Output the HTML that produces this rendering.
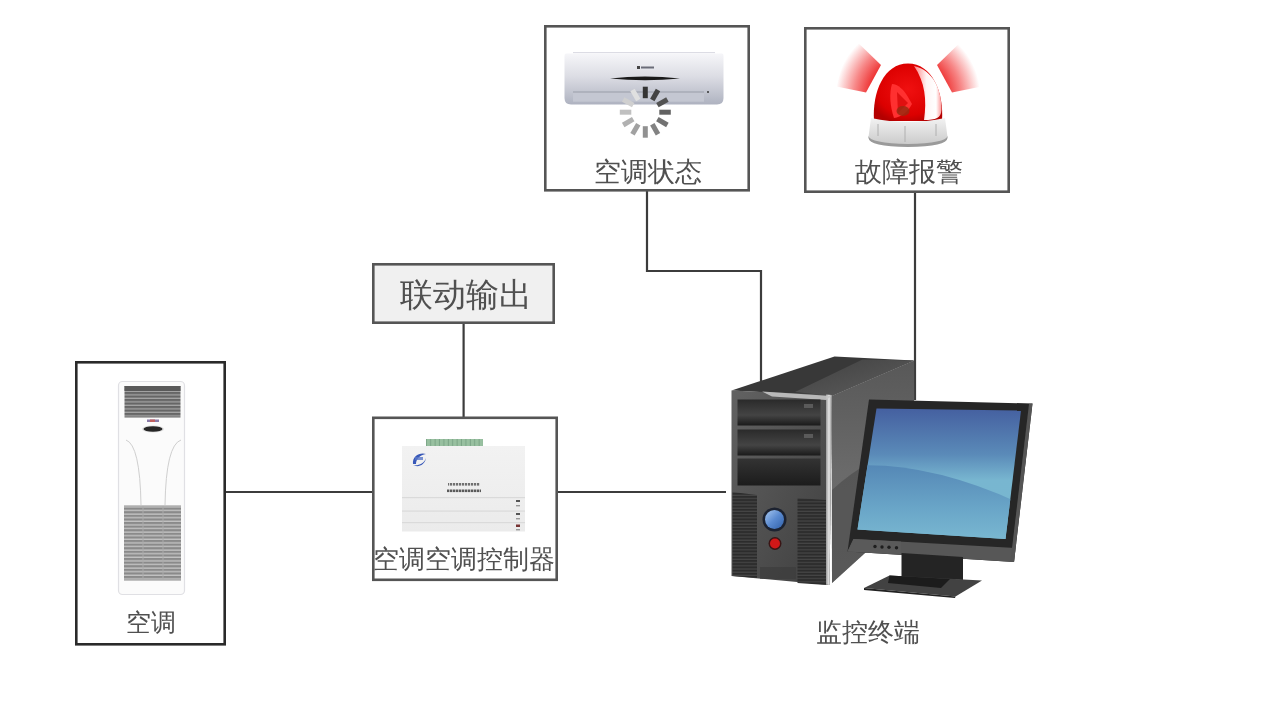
<!DOCTYPE html>
<html><head><meta charset="utf-8">
<style>
html,body{margin:0;padding:0;background:#fff;width:1280px;height:720px;overflow:hidden}
svg{position:absolute;left:0;top:0}
#wrap{position:absolute;left:0;top:0;width:1280px;height:720px;will-change:transform}
.t{font-family:"Liberation Sans",sans-serif;fill:#505050}
</style></head><body><div id="wrap">
<svg width="1280" height="720" viewBox="0 0 1280 720">
<defs>
  <linearGradient id="gTop" x1="0" y1="0" x2="1" y2="1">
    <stop offset="0" stop-color="#404040"/><stop offset="1" stop-color="#5e5e5e"/>
  </linearGradient>
  <linearGradient id="gSide" x1="0" y1="0" x2="0" y2="1">
    <stop offset="0" stop-color="#585858"/><stop offset="0.5" stop-color="#6a6a6a"/><stop offset="1" stop-color="#707070"/>
  </linearGradient>
  <linearGradient id="gFront" x1="0" y1="0" x2="1" y2="1">
    <stop offset="0" stop-color="#626262"/><stop offset="1" stop-color="#3e3e3e"/>
  </linearGradient>
  <linearGradient id="gEdge" x1="0" y1="0" x2="1" y2="0">
    <stop offset="0" stop-color="#9a9a9a"/><stop offset="0.5" stop-color="#e6e6e6"/><stop offset="1" stop-color="#8a8a8a"/>
  </linearGradient>
  <linearGradient id="gBay" x1="0" y1="0" x2="0" y2="1">
    <stop offset="0" stop-color="#2a2a2a"/><stop offset="0.6" stop-color="#444"/><stop offset="1" stop-color="#1a1a1a"/>
  </linearGradient>
  <linearGradient id="gBay3" x1="0" y1="0" x2="0" y2="1">
    <stop offset="0" stop-color="#333"/><stop offset="1" stop-color="#1c1c1c"/>
  </linearGradient>
  <linearGradient id="gBlue" x1="0" y1="0" x2="1" y2="1">
    <stop offset="0" stop-color="#a8c8f0"/><stop offset="0.5" stop-color="#5a8ad0"/><stop offset="1" stop-color="#3060a8"/>
  </linearGradient>
  <linearGradient id="gScreen" x1="0" y1="0" x2="0" y2="1">
    <stop offset="0" stop-color="#4560a0"/><stop offset="0.35" stop-color="#5a8ab8"/><stop offset="0.55" stop-color="#78b6d0"/><stop offset="1" stop-color="#78b8d0"/>
  </linearGradient>
  <linearGradient id="gScreen2" x1="0" y1="0" x2="0" y2="1">
    <stop offset="0" stop-color="#5588b6"/><stop offset="0.55" stop-color="#6aa6c8"/><stop offset="1" stop-color="#7cbad2"/>
  </linearGradient>
  <pattern id="pVent" width="6" height="3.2" patternUnits="userSpaceOnUse">
    <rect width="6" height="3.2" fill="#2c2c2c"/><rect y="2" width="6" height="1.2" fill="#454545"/>
  </pattern>

  <linearGradient id="gAC" x1="0" y1="0" x2="0" y2="1">
    <stop offset="0" stop-color="#f6f6f9"/><stop offset="0.45" stop-color="#dcdde4"/><stop offset="1" stop-color="#aeb2c0"/>
  </linearGradient>
  <radialGradient id="gRayL" gradientUnits="userSpaceOnUse" cx="908" cy="96" r="84">
    <stop offset="0.46" stop-color="#ee3434"/><stop offset="0.64" stop-color="#f78888"/><stop offset="0.86" stop-color="#ffffff"/>
  </radialGradient>
  
  <radialGradient id="gDome" cx="0.5" cy="0.45" r="0.6">
    <stop offset="0" stop-color="#f01010"/><stop offset="0.75" stop-color="#dc0000"/><stop offset="1" stop-color="#b40000"/>
  </radialGradient>
  <linearGradient id="gHL" x1="0" y1="0" x2="1" y2="0">
    <stop offset="0" stop-color="#ff8080"/><stop offset="0.45" stop-color="#fff4f4"/><stop offset="0.8" stop-color="#ffffff"/><stop offset="1" stop-color="#ff9a9a"/>
  </linearGradient>
  <linearGradient id="gBase" x1="0" y1="0" x2="0" y2="1">
    <stop offset="0" stop-color="#f2f2f2"/><stop offset="1" stop-color="#c8c8c8"/>
  </linearGradient>
  <linearGradient id="gCtl" x1="0" y1="0" x2="0" y2="1">
    <stop offset="0" stop-color="#f2f2f2"/><stop offset="1" stop-color="#ebebeb"/>
  </linearGradient>
  <pattern id="pGrille1" width="4" height="3.5" patternUnits="userSpaceOnUse">
    <rect width="4" height="3.5" fill="#666"/><rect y="2.2" width="4" height="1.3" fill="#a4a4a4"/>
  </pattern>
  <pattern id="pGrille2" width="4" height="3.6" patternUnits="userSpaceOnUse">
    <rect width="4" height="3.6" fill="#8a8a8a"/><rect y="2.2" width="4" height="1.4" fill="#c2c2c2"/>
  </pattern>
  <pattern id="pTerm" width="4.4" height="7.5" patternUnits="userSpaceOnUse">
    <rect width="4.4" height="7.5" fill="#98c0a0"/><rect x="3.4" width="1" height="7.5" fill="#7aa486"/>
  </pattern>
  <pattern id="pTxt" width="3" height="3" patternUnits="userSpaceOnUse"><rect width="2.2" height="3" fill="#707070"/></pattern>
  <pattern id="pTxt2" width="3" height="3" patternUnits="userSpaceOnUse"><rect width="2.4" height="3" fill="#5a5a5a"/></pattern>
  <clipPath id="clipScr"><polygon points="876.5,408.5 1021,410.5 1005.5,539 857.5,529.5"/></clipPath>
</defs>
<g>
<!-- connector lines -->
<g stroke="#3c3c3c" stroke-width="2.2" fill="none">
  <polyline points="647,191 647,271 761,271 761,381"/>
  <line x1="915" y1="193" x2="915" y2="400"/>
  <line x1="463.6" y1="324" x2="463.6" y2="417"/>
  <line x1="226" y1="492" x2="372" y2="492"/>
  <line x1="557" y1="492" x2="726" y2="492"/>
</g>
<!-- boxes -->
<g fill="#fff" stroke="#555" stroke-width="2.6">
  <rect x="545.3" y="26.3" width="203.4" height="164"/>
  <rect x="805.3" y="28.3" width="203.4" height="163.4"/>
  <rect x="373.3" y="264.3" width="180.4" height="58.4" fill="#f0f0f0"/>
  <rect x="373.3" y="417.8" width="183.4" height="162"/>
  <rect x="76.3" y="362.3" width="148.4" height="282" stroke="#2a2a2a"/>
</g>


<!-- wall AC -->
<g id="wallac">
  <rect x="573" y="52" width="142" height="1.2" fill="#dcdce4"/>
  <path d="M566,53.5 L722,53.5 Q723.5,53.5 723.5,56 L723.5,98 Q723.5,104.5 717,104.5 L571,104.5 Q564.5,104.5 564.5,98 L564.5,56 Q564.5,53.5 566,53.5 Z" fill="url(#gAC)"/>
  <rect x="573" y="91.5" width="131" height="1.2" fill="#9a9eaa"/>
  <rect x="573" y="92.7" width="131" height="9" fill="#c4c7d2"/>
  <path d="M610,78.5 Q645,74.5 680,78.5 Q645,82 610,78.5 Z" fill="#1a1a1a"/>
  <rect x="637" y="66" width="3" height="3" fill="#444"/><rect x="641" y="66.5" width="13" height="2" fill="#6a6c78"/>
  <circle cx="708" cy="92" r="1" fill="#333"/>
  <line x1="645.3" y1="98.2" x2="645.3" y2="86.7" stroke="#343434" stroke-width="5" stroke-linecap="butt"/>
  <line x1="652.3" y1="100.1" x2="658.0" y2="90.1" stroke="#434343" stroke-width="5" stroke-linecap="butt"/>
  <line x1="657.4" y1="105.2" x2="667.4" y2="99.5" stroke="#535353" stroke-width="5" stroke-linecap="butt"/>
  <line x1="659.3" y1="112.2" x2="670.8" y2="112.2" stroke="#626262" stroke-width="5" stroke-linecap="butt"/>
  <line x1="657.4" y1="119.2" x2="667.4" y2="125.0" stroke="#727272" stroke-width="5" stroke-linecap="butt"/>
  <line x1="652.3" y1="124.3" x2="658.0" y2="134.3" stroke="#828282" stroke-width="5" stroke-linecap="butt"/>
  <line x1="645.3" y1="126.2" x2="645.3" y2="137.7" stroke="#919191" stroke-width="5" stroke-linecap="butt"/>
  <line x1="638.3" y1="124.3" x2="632.5" y2="134.3" stroke="#a1a1a1" stroke-width="5" stroke-linecap="butt"/>
  <line x1="633.2" y1="119.2" x2="623.2" y2="125.0" stroke="#b1b1b1" stroke-width="5" stroke-linecap="butt"/>
  <line x1="631.3" y1="112.2" x2="619.8" y2="112.2" stroke="#c0c0c0" stroke-width="5" stroke-linecap="butt"/>
  <line x1="633.2" y1="105.2" x2="623.2" y2="99.5" stroke="#d0d0d0" stroke-width="5" stroke-linecap="butt"/>
  <line x1="638.3" y1="100.1" x2="632.5" y2="90.1" stroke="#e0e0e0" stroke-width="5" stroke-linecap="butt"/>
</g>

<!-- alarm -->
<g id="alarm">
  <polygon points="850,35 881,65 866,92.5 836.5,86.5" fill="url(#gRayL)"/>
  <polygon points="968,35 937,65 952,92.5 981.5,86.5" fill="url(#gRayL)"/>
  <path d="M874,121 C872,92 884,63.5 908,63.5 C932,63.5 944,92 942,121 Z" fill="url(#gDome)"/>
  <path d="M914,66 C933,70 942,90 941.5,110 C941,118 936,120 924,120 C927,100 925,82 914,66 Z" fill="url(#gHL)"/>
  <path d="M892,84 C898,84 904,90 908,97 L912,104 C908,112 901,117 894,118 C890,106 889,94 892,84 Z" fill="#ff3030"/>
  <path d="M897,92 L908,103 L898,113 Z" fill="#e01010"/>
  <ellipse cx="903" cy="111" rx="6.5" ry="5" fill="#9a2a10" opacity="0.85"/>
  <path d="M871,118 Q908,126 945,118 L947.5,137 Q947,145 908,146 Q869,145 868.5,137 Z" fill="url(#gBase)"/>
  <path d="M868.5,136 Q870,143 908,144 Q946,143 947.5,136 L947.5,138 Q947,146.5 908,147 Q869,146.5 868.5,138 Z" fill="#9a9a9a"/>
  <g stroke="#b0b0b0" stroke-width="1"><line x1="878" y1="124" x2="878" y2="136"/><line x1="905" y1="126" x2="905" y2="142"/><line x1="936" y1="124" x2="936" y2="136"/></g>
</g>

<!-- floor AC -->
<g id="floorac">
  <rect x="118.5" y="381.5" width="66" height="213" rx="4" fill="#fbfbfb" stroke="#e0e0e4" stroke-width="1.2"/>
  <rect x="124.5" y="386" width="56" height="31.5" fill="url(#pGrille1)"/><rect x="124.5" y="386" width="56" height="5" fill="#5a5a5a"/>
  <rect x="147" y="419.5" width="12" height="2.5" fill="#8a7aa8"/><rect x="150" y="419.5" width="5" height="2.5" fill="#c06060"/>
  <ellipse cx="153" cy="429" rx="11" ry="3.6" fill="#e0e0e0"/><ellipse cx="153" cy="429" rx="9.5" ry="2.8" fill="#262626"/>
  <path d="M126,440 Q140,445 141,505 M181,440 Q166,445 165,505" stroke="#cfcfcf" stroke-width="1" fill="none"/>
  <rect x="124" y="505.5" width="57" height="75" fill="url(#pGrille2)"/>
  <line x1="143" y1="506" x2="143" y2="580" stroke="#aaa" stroke-width="1"/>
  <line x1="163" y1="506" x2="163" y2="580" stroke="#aaa" stroke-width="1"/>
</g>

<!-- controller -->
<g id="controller">
  <rect x="426" y="439" width="57" height="7" fill="url(#pTerm)"/>
  <rect x="402" y="446" width="123" height="85.5" fill="url(#gCtl)"/>
  <path d="M413,464 C412,456 420,452 426,454 C420,455 416,459 416,464 Z" fill="#3858b8"/>
  <path d="M413,465 C418,468 425,465 426,458 C424,464 418,466 413,465 Z" fill="#3858b8"/>
  <rect x="415" y="457" width="8" height="3" fill="#5a78c8" opacity="0.8"/>
  <rect x="448" y="483" width="32" height="2.6" fill="url(#pTxt)"/>
  <rect x="447" y="489.5" width="34" height="2.6" fill="url(#pTxt2)"/>
  <g fill="#dadada"><rect x="402" y="497" width="123" height="1.2"/><rect x="402" y="510.5" width="123" height="1.2"/><rect x="402" y="522" width="123" height="1.2"/></g>
  <g fill="#555"><rect x="516" y="500" width="4" height="2"/><rect x="516" y="505" width="4" height="1.4" fill="#999"/><rect x="516" y="513" width="4" height="2"/><rect x="516" y="518" width="4" height="1.4" fill="#999"/><rect x="516" y="524.5" width="4" height="2.5" fill="#733"/><rect x="516" y="529" width="4" height="1.4" fill="#999"/></g>
</g>
<!-- computer -->
<g id="computer">
  <!-- tower top face -->
  <polygon points="731.5,390.5 834.5,356.5 914,360.5 831.5,396" fill="#383838"/>
  <polygon points="862.5,359.5 914,360.5 831.5,396 795,392" fill="url(#gTop)"/>
  <!-- tower side face -->
  <polygon points="831.5,396 914,360.5 914.5,508 832,583" fill="url(#gSide)"/>
  <path d="M832,490 Q870,455 914.5,445 L914.5,508 L832,583 Z" fill="#505050" opacity="0.75"/>
  <!-- tower front face -->
  <polygon points="731.5,390.5 832,395 829.5,585 731.5,576" fill="url(#gFront)"/>
  <!-- silver edges -->
  <polygon points="826,394.5 832,395 829.5,585 826,584.5" fill="url(#gEdge)"/>
  <polygon points="762,391.5 831.5,396 826,400 772,396.5" fill="#c4c4c4" opacity="0.9"/>
  <!-- drive bays -->
  <rect x="737.5" y="399.5" width="83" height="26" fill="url(#gBay)"/>
  <rect x="737.5" y="429.5" width="83" height="26" fill="url(#gBay)"/>
  <rect x="737.5" y="458.5" width="83" height="27" fill="url(#gBay3)"/>
  <rect x="804" y="404" width="9" height="4" fill="#5a5a5a"/>
  <rect x="804" y="434" width="9" height="4" fill="#5a5a5a"/>
  <!-- vents -->
  <polygon points="732.5,492 757,495 757,578 732.5,576" fill="url(#pVent)"/>
  <polygon points="797.5,498 826,500 826,585 797.5,583" fill="url(#pVent)"/>
  <rect x="760" y="567" width="36" height="12" fill="#3a3a3a" opacity="0.6"/>
  <!-- buttons -->
  <circle cx="774.5" cy="519.5" r="12" fill="#1c2230"/>
  <circle cx="774.5" cy="519.5" r="9.5" fill="url(#gBlue)"/>
  <circle cx="775" cy="543.5" r="6.5" fill="#3a1515"/>
  <circle cx="775" cy="543.5" r="5" fill="#d01818"/>
  <!-- monitor bezel -->
  <polygon points="869,399.5 1032.5,403.5 1014,562 847.5,551.5" fill="#262626"/>
  <polygon points="853.5,539 1015.5,548 1014,562 847.5,551.5" fill="#575757"/>
  <polygon points="853.5,539 901,541.5 901,554 847.5,551.5" fill="#5a5a5a"/>
  <polygon points="1029,404 1032.5,403.5 1014,562 1010.5,561" fill="#555"/>
  <!-- screen -->
  <polygon points="876.5,408.5 1021,410.5 1005.5,539 857.5,529.5" fill="url(#gScreen)"/>
  <path d="M850,466 Q930,460 1030,508 L1030,545 L850,545 Z" fill="url(#gScreen2)" clip-path="url(#clipScr)"/>
  <!-- dots -->
  <g fill="#1e1e1e"><circle cx="875" cy="546.5" r="1.7"/><circle cx="882" cy="547" r="1.7"/><circle cx="889" cy="547.3" r="1.7"/><circle cx="896.5" cy="547.7" r="1.7"/></g>
  <!-- neck -->
  <polygon points="901.5,553 963,557 963,580 901.5,577" fill="#242424"/>
  <!-- base -->
  <polygon points="889.5,575.5 982,580.5 955.5,596.5 864,588" fill="#424242"/>
  <polygon points="889.5,575.5 950,579 941,588 888,583" fill="#1c1c1c"/>
  <polygon points="864,588 955.5,596.5 955,598 864,590" fill="#222"/>
</g>
<!-- labels -->
<g class="t">
  <text x="647.5" y="181" font-size="27" text-anchor="middle">空调状态</text>
  <text x="909" y="181" font-size="27" text-anchor="middle">故障报警</text>
  <text x="466" y="306" font-size="33" text-anchor="middle">联动输出</text>
  <text x="463.5" y="568" font-size="25.7" text-anchor="middle">空调空调控制器</text>
  <text x="150.5" y="631" font-size="25" text-anchor="middle">空调</text>
  <text x="867.5" y="641" font-size="26" text-anchor="middle">监控终端</text>
</g>
</g>
</svg>
</div></body></html>
